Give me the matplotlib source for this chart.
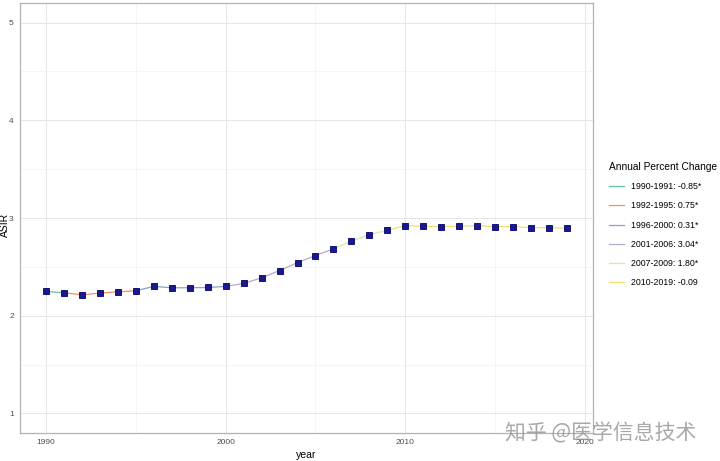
import matplotlib
matplotlib.use("Agg")
import matplotlib.pyplot as plt
from matplotlib.ticker import MultipleLocator

plt.rcParams['font.family'] = ['Liberation Sans', 'DejaVu Sans']

years = list(range(1990, 2020))
asir = [2.248, 2.235, 2.214, 2.232, 2.245, 2.255, 2.300, 2.286, 2.286, 2.289,
        2.300, 2.330, 2.388, 2.462, 2.544, 2.616, 2.684, 2.762, 2.830, 2.874,
        2.922, 2.915, 2.912, 2.915, 2.922, 2.912, 2.912, 2.901, 2.901, 2.895]

segments = [(1990, 1991), (1991, 1995), (1995, 2000), (2000, 2006), (2006, 2009), (2009, 2019)]
seg_labels = ["1990-1991: -0.85*", "1992-1995: 0.75*", "1996-2000: 0.31*",
              "2001-2006: 3.04*", "2007-2009: 1.80*", "2010-2019: -0.09"]
seg_colors = ["#66C2A5", "#FC8D62", "#8DA0CB", "#B8A8C8", "#D8E8A0", "#F0E070"]

fig = plt.figure(figsize=(7.2, 4.61), dpi=100)
ax = fig.add_axes([20/720, 1-433/461, (593-20)/720, (433-3)/461])

for (s, e), lab, col in zip(segments, seg_labels, seg_colors):
    i0, i1 = years.index(s), years.index(e)
    ax.plot(years[i0:i1+1], asir[i0:i1+1], color=col, lw=0.9, label=lab, zorder=2)

ax.plot(years, asir, linestyle="none", marker="s", ms=3.8, mfc="#1a1a8c",
        mec="#00006e", mew=0.6, zorder=3)

ax.set_xlim(1988.55, 2020.45)
ax.set_ylim(0.8, 5.2)
ax.set_xticks([1990, 2000, 2010, 2020])
ax.set_yticks([1, 2, 3, 4, 5])
ax.xaxis.set_minor_locator(MultipleLocator(5))
ax.yaxis.set_minor_locator(MultipleLocator(0.5))
ax.grid(which="major", color="#e6e6e6", lw=0.7)
ax.grid(which="minor", color="#f2f2f2", lw=0.5)
ax.set_axisbelow(True)
for sp in ax.spines.values():
    sp.set_color("#b3b3b3")
    sp.set_linewidth(0.9)
ax.tick_params(which="both", length=0, labelsize=6.0, labelcolor="#4d4d4d", pad=4.5)
ax.set_xlabel("year", fontsize=7.5, labelpad=3)
ax.set_ylabel("ASIR", fontsize=7.5)
ax.yaxis.set_label_coords(-0.018, 0.485)

handles, labels = ax.get_legend_handles_labels()
leg = fig.legend(handles, labels, title="Annual Percent Change", loc="upper left",
                 bbox_to_anchor=(601/720, 1-154/461), frameon=False, fontsize=6.3,
                 title_fontsize=7.3, handlelength=1.7, handletextpad=0.8,
                 labelspacing=1.17, alignment="left")

fig.text(505/720, 1-433/461, "知乎 @医学信息技术", fontsize=15, color="#8c8c8c",
         alpha=0.75, va="center", ha="left",
         family=["Noto Sans CJK SC", "DejaVu Sans"])

fig.savefig("out.png", dpi=100)
